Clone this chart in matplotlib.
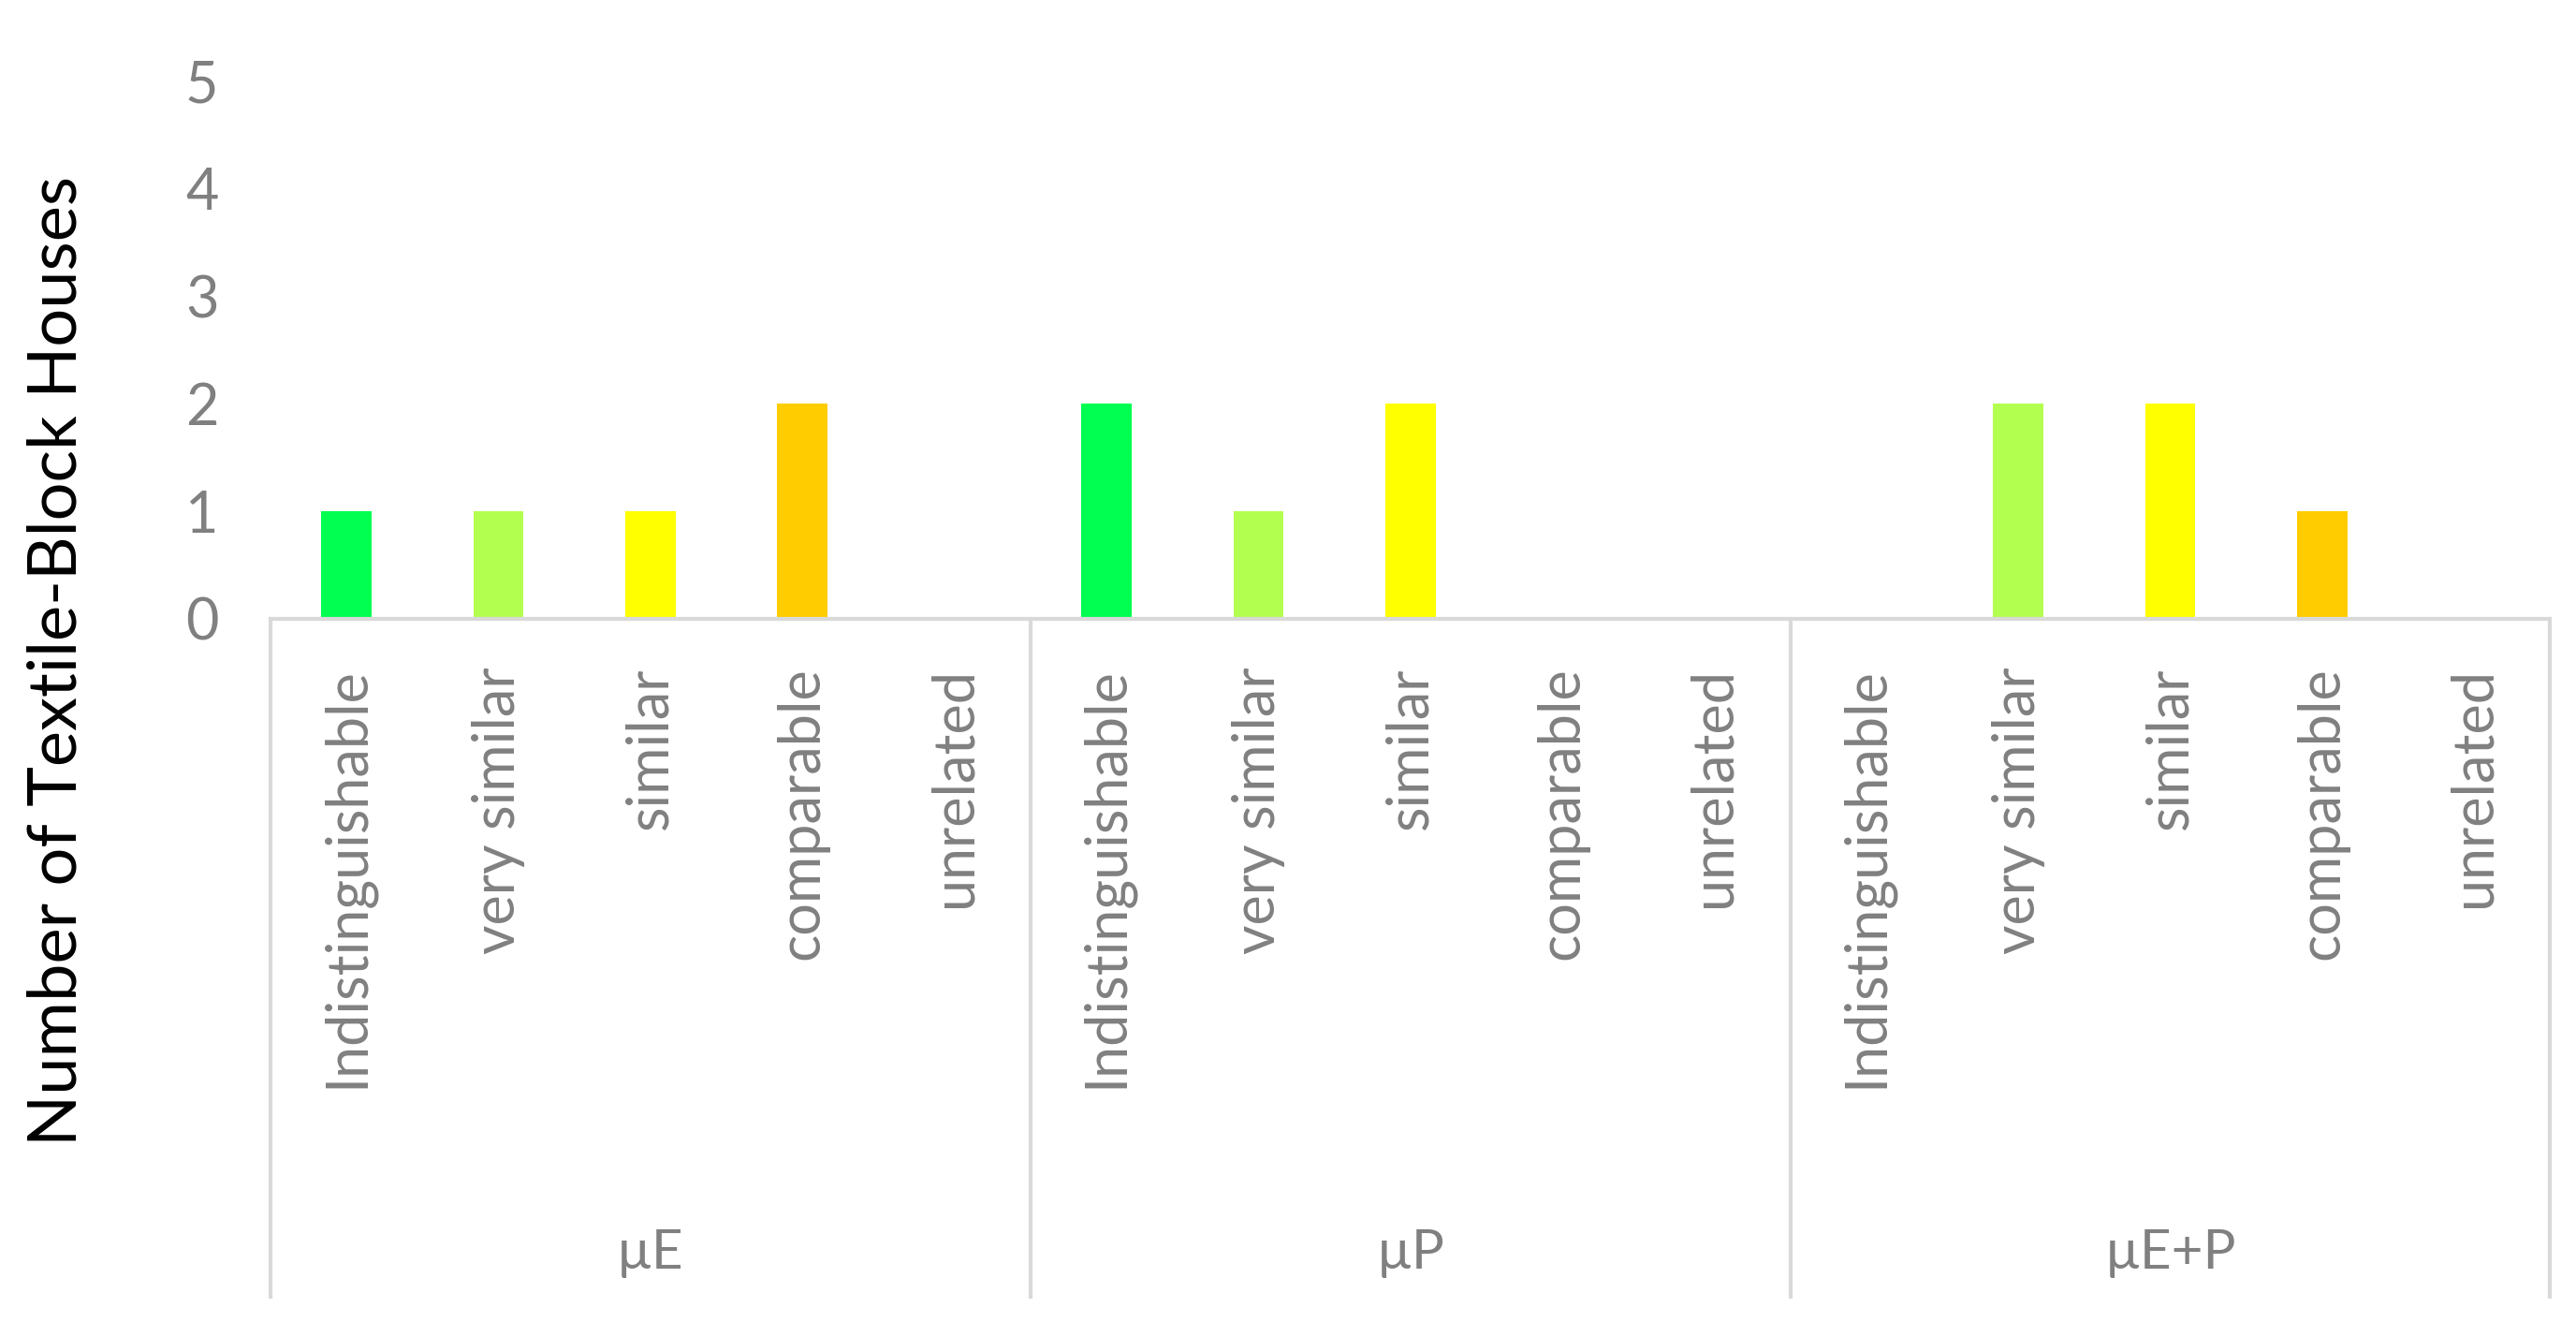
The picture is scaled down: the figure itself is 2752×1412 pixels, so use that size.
import numpy as np
import matplotlib.pyplot as plt

plt.rcParams['font.family'] = ['Lato', 'DejaVu Sans']

groups = ['µE', 'µP', 'µE+P']
categories = ['Indistinguishable', 'very similar', 'similar', 'comparable', 'unrelated']
values = {
    'µE': [1, 1, 1, 2, 0],
    'µP': [2, 1, 2, 0, 0],
    'µE+P': [0, 2, 2, 1, 0],
}
colors = ['#00FF50', '#B3FF50', '#FFFF00', '#FFCC00', '#FF8000']

grey = '#808080'
line_grey = '#D9D9D9'

fig = plt.figure(figsize=(27.52, 14.12), dpi=100)
ax = fig.add_axes([0.105, 0.532, 0.885, 0.407])

n = len(categories)
for g, grp in enumerate(groups):
    xs = g * n + np.arange(n) + 0.5
    ax.bar(xs, values[grp], width=0.33, color=colors)
    for i, lab in enumerate(categories):
        ax.text(xs[i], -0.09, lab, rotation=90, ha='center', va='top',
                fontsize=44, color=grey, transform=ax.get_xaxis_transform())
    ax.text(g * n + n / 2, -1.18, grp, ha='center', va='center',
            fontsize=42, color=grey, transform=ax.get_xaxis_transform())

for b in range(len(groups) + 1):
    ax.plot([b * n, b * n], [0, -1.26], color=line_grey, lw=3,
            clip_on=False, transform=ax.get_xaxis_transform())

ax.set_xlim(0, n * len(groups))
ax.set_ylim(0, 5)
ax.set_xticks([])
ax.set_yticks(range(6))
ax.tick_params(axis='y', length=0, labelsize=44, labelcolor=grey, pad=40)
for s in ['top', 'right', 'left']:
    ax.spines[s].set_visible(False)
ax.spines['bottom'].set_color(line_grey)
ax.spines['bottom'].set_linewidth(3)

fig.text(0.022, 0.5, 'Number of Textile-Block Houses', rotation=90,
         ha='center', va='center', fontsize=52, color='black')

fig.savefig('out.png', dpi=100)
